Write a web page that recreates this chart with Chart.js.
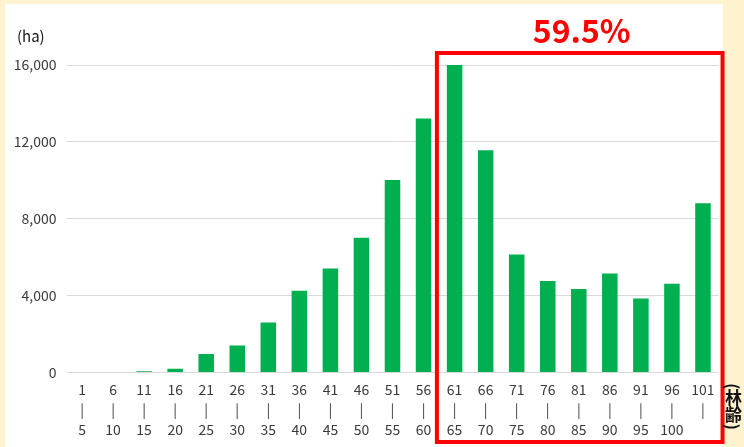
<!DOCTYPE html>
<html>
<head>
<meta charset="utf-8">
<script src="https://cdn.jsdelivr.net/npm/chart.js@4/dist/chart.umd.min.js"></script>
<style>
  html, body { margin: 0; padding: 0; }
  body { width: 744px; height: 447px; background: #FFF2CF; position: relative; overflow: hidden; }
  #panel { position: absolute; left: 5px; top: 4px; width: 718px; height: 443px; background: #ffffff; }
  #wrap { position: absolute; left: 0; top: 0; width: 744px; height: 447px; }
  #age { position: absolute; left: 725px; top: 383px; writing-mode: vertical-rl; font-family: 'Noto Sans CJK JP', sans-serif; font-size: 17px; font-weight: bold; color: #111; line-height: 1; }
</style>
</head>
<body>
<div id="panel"></div>
<div id="wrap"><canvas id="c" width="744" height="447"></canvas></div>
<div id="age">(林齢)</div>
<script>
const categoriesFrom = ["1","6","11","16","21","26","31","36","41","46","51","56","61","66","71","76","81","86","91","96","101"];
const categoriesTo   = ["5","10","15","20","25","30","35","40","45","50","55","60","65","70","75","80","85","90","95","100",""];
const areaHa = [0, 0, 60, 200, 960, 1400, 2600, 4250, 5410, 7010, 10010, 13220, 16000, 11570, 6140, 4760, 4340, 5150, 3850, 4620, 8810];
const yTicks = [0, 4000, 8000, 12000, 16000];
const yUnit = "(ha)";
const highlightShare = "59.5%";
const highlightFrom = 12;

const labels = categoriesFrom.map((f, i) => [f, "|", categoriesTo[i]]);
const tickFont = "'Noto Sans CJK JP', sans-serif";

const overlay = {
  id: 'overlay',
  afterDraw(chart) {
    const ctx = chart.ctx;
    const xs = chart.scales.x;
    const ca = chart.chartArea;
    const cw = xs.getPixelForValue(1) - xs.getPixelForValue(0);
    const left = xs.getPixelForValue(highlightFrom) - 0.57 * cw;
    const right = xs.getPixelForValue(categoriesFrom.length - 1) + 0.63 * cw;
    const top = ca.top - 12;
    const bottom = 442;
    ctx.save();
    ctx.strokeStyle = '#FF0000';
    ctx.lineWidth = 4;
    ctx.strokeRect(left, top, right - left, bottom - top);
    ctx.fillStyle = '#FF0000';
    ctx.font = "bold 32px " + tickFont;
    ctx.textAlign = 'center';
    ctx.textBaseline = 'alphabetic';
    ctx.fillText(highlightShare, (left + right) / 2 + 2, 43);
    ctx.fillStyle = '#111';
    ctx.font = "15px " + tickFont;
    ctx.textAlign = 'left';
    ctx.fillText(yUnit, 17, 42);
    ctx.restore();
  }
};

new Chart(document.getElementById('c'), {
  type: 'bar',
  data: {
    labels: labels,
    datasets: [{
      data: areaHa,
      backgroundColor: '#00B050',
      borderWidth: 0,
      barPercentage: 0.5,
      categoryPercentage: 1.0
    }]
  },
  options: {
    responsive: false,
    animation: false,
    devicePixelRatio: 1,
    layout: { padding: { left: 0, right: 25.5, top: 65, bottom: 10.5 } },
    plugins: { legend: { display: false }, tooltip: { enabled: false } },
    scales: {
      x: {
        grid: { display: false, drawTicks: false },
        border: { display: false },
        ticks: {
          color: '#3a3a3a',
          font: { family: tickFont, size: 14, lineHeight: 1.43 },
          padding: 7,
          maxRotation: 0,
          autoSkip: false
        },
        afterFit(scale) { scale.height = 64; }
      },
      y: {
        min: 0,
        max: 16000,
        afterBuildTicks(scale) { scale.ticks = yTicks.map(v => ({ value: v })); },
        grid: { color: '#d9d9d9', lineWidth: 1, drawTicks: false },
        border: { display: false },
        ticks: {
          color: '#3a3a3a',
          font: { family: tickFont, size: 14 },
          padding: 10,
          callback: v => v.toLocaleString('en-US')
        },
        afterFit(scale) { scale.width = 66.5; }
      }
    }
  },
  plugins: [overlay]
});
</script>
</body>
</html>
